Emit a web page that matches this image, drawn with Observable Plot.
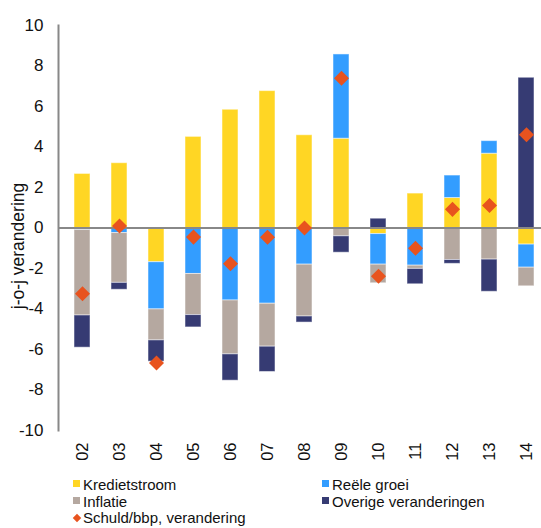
<!DOCTYPE html>
<html><head><meta charset="utf-8">
<script src="https://cdn.jsdelivr.net/npm/d3@7"></script>
<script src="https://cdn.jsdelivr.net/npm/@observablehq/plot@0.6"></script>
<style>
body{margin:0;background:#fff;font-family:"Liberation Sans",Arial,sans-serif;}
#chart{position:relative;width:541px;height:528px;overflow:hidden;}
.li{position:absolute;font-size:15px;line-height:16px;color:#111;white-space:nowrap;}
.sw{position:absolute;width:7px;height:7px;}
.dm{position:absolute;width:6px;height:6px;transform:rotate(45deg);}
</style></head><body><div id="chart"></div>
<script>
const years = ["02","03","04","05","06","07","08","09","10","11","12","13","14"];
const seriesNames = ["Kredietstroom","Reële groei","Inflatie","Overige veranderingen"];
const seriesColors = ["#FFD624","#339DFF","#B5A8A0","#363B73"];
const kredietstroom = [2.67, 3.2, -1.69, 4.5, 5.84, 6.76, 4.58, 4.41, -0.3, 1.70, 1.48, 3.67, -0.82];
const reeleGroei = [-0.1, -0.25, -2.33, -2.27, -3.58, -3.74, -1.81, 4.16, -1.51, -1.86, 1.11, 0.62, -1.14];
const inflatie = [-4.22, -2.46, -1.53, -2.03, -2.66, -2.12, -2.56, -0.41, -0.92, -0.16, -1.58, -1.56, -0.92];
const overige = [-1.59, -0.34, -1.05, -0.61, -1.30, -1.25, -0.30, -0.81, 0.46, -0.76, -0.19, -1.59, 7.42];
const schuldName = "Schuld/bbp, verandering";
const schuld = [-3.25, 0.1, -6.67, -0.45, -1.77, -0.46, 0.0, 7.39, -2.38, -1.0, 0.92, 1.11, 4.6];
const yTicks = [-10,-8,-6,-4,-2,0,2,4,6,8,10];

const seriesValues = [kredietstroom, reeleGroei, inflatie, overige];
const rows = [];
seriesNames.forEach((s, i) => years.forEach((y, j) => rows.push({year: y, series: s, value: seriesValues[i][j]})));
const points = years.map((y, j) => ({year: y, value: schuld[j]}));

const W = 541, H = 468;
const chart = Plot.plot({
  width: W, height: H,
  marginLeft: 58, marginRight: 0, marginTop: 25, marginBottom: 38,
  style: {fontFamily: '"Liberation Sans", Arial, sans-serif', fontSize: "17px", color: "#111", background: "#fff"},
  x: {domain: years, range: [58, 549], paddingInner: 0.576, paddingOuter: 0.288, align: 0.5},
  y: {domain: [-10, 10]},
  color: {domain: seriesNames, range: seriesColors},
  marks: [
    Plot.barY(rows, {x: "year", y: "value", fill: "series", z: "series", order: seriesNames, stroke: "#fff", strokeOpacity: 0.5, strokeWidth: 1}),
    Plot.ruleY([0], {stroke: "#888", strokeWidth: 2}),
    Plot.frame({anchor: "left", stroke: "#888", strokeWidth: 2}),
    Plot.dot(points, {x: "year", y: "value", symbol: "square", r: 6, rotate: 45, fill: "#E8531E", stroke: "none"}),
    Plot.axisY({ticks: yTicks, tickSize: 0, tickPadding: 15, tickFormat: d => String(d), label: null, fontSize: 17}),
    Plot.axisX({tickSize: 0, tickPadding: 12, tickRotate: -90, label: null, fontSize: 16.5}),
    Plot.text(["j-o-j verandering"], {frameAnchor: "left", text: d => d, rotate: -90, dx: -40, dy: 18, fontSize: 17.5, textAnchor: "middle", lineAnchor: "middle", fill: "#111"})
  ]
});
const root = document.getElementById("chart");
root.appendChild(chart);

const legendItems = [
  {label: seriesNames[0], color: seriesColors[0], col: 0, row: 0, type: "sq"},
  {label: seriesNames[1], color: seriesColors[1], col: 1, row: 0, type: "sq"},
  {label: seriesNames[2], color: seriesColors[2], col: 0, row: 1, type: "sq"},
  {label: seriesNames[3], color: seriesColors[3], col: 1, row: 1, type: "sq"},
  {label: schuldName, color: "#E8531E", col: 0, row: 2, type: "dm"}
];
const colX = [73, 322], rowTop = [477, 493.5, 510];
legendItems.forEach(it => {
  const m = document.createElement("div");
  m.className = it.type === "sq" ? "sw" : "dm";
  m.style.background = it.color;
  m.style.left = (colX[it.col] + (it.type === "sq" ? 0 : 0.5)) + "px";
  m.style.top = (rowTop[it.row] + (it.type === "sq" ? 3 : 4.5)) + "px";
  root.appendChild(m);
  const t = document.createElement("div");
  t.className = "li";
  t.textContent = it.label;
  t.style.left = (colX[it.col] + 10) + "px";
  t.style.top = rowTop[it.row] + "px";
  root.appendChild(t);
});
</script>
</body></html>
